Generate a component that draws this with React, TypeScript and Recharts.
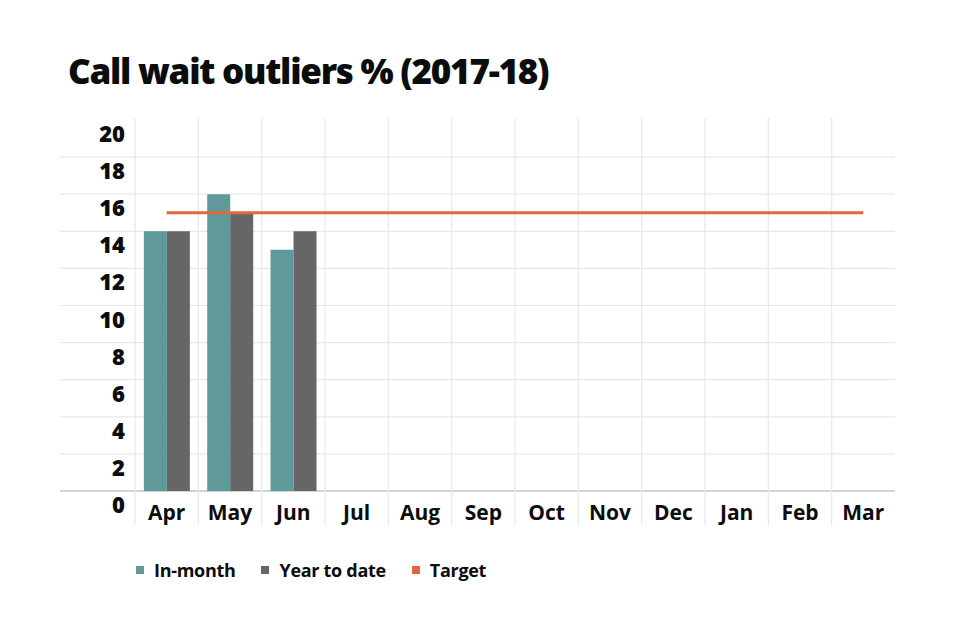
import React from 'react'
import { ComposedChart, Bar, Line, XAxis, YAxis, CartesianGrid } from 'recharts'

const months = ['Apr', 'May', 'Jun', 'Jul', 'Aug', 'Sep', 'Oct', 'Nov', 'Dec', 'Jan', 'Feb', 'Mar']
const inMonth = [14, 16, 13, null, null, null, null, null, null, null, null, null]
const yearToDate = [14, 15, 14, null, null, null, null, null, null, null, null, null]
const target = [15, 15, 15, 15, 15, 15, 15, 15, 15, 15, 15, 15]
const yTicks = [0, 2, 4, 6, 8, 10, 12, 14, 16, 18, 20]
const seriesNames = ['In-month', 'Year to date', 'Target']

const TEAL = '#5f9999'
const GREY = '#666666'
const ORANGE = '#e0683a'
const INK = '#0b0c0c'
const FONT = '"Open Sans", Lato, sans-serif'

const data = months.map((m, i) => ({
  month: m,
  inMonth: inMonth[i],
  ytd: yearToDate[i],
  target: target[i],
}))

const YTick = (props: any) => {
  const { x, y, payload } = props
  return (
    <text x={x} y={y + 22} textAnchor="end" fontFamily={FONT} fontWeight={800} fontSize={22} fill={INK}>
      {payload.value}
    </text>
  )
}

const XTick = (props: any) => {
  const { x, y, payload } = props
  return (
    <text x={x} y={y + 29} textAnchor="middle" fontFamily={FONT} fontWeight={700} fontSize={21} fill={INK}>
      {payload.value}
    </text>
  )
}

const hLine = (props: any) => {
  const { x1, x2, y1, y, height, index } = props
  if (y1 <= y + 1) return <g key={`h-${index}`} />
  const isZero = y1 >= y + height - 1
  return (
    <line key={`h-${index}`} x1={x1 - 75} x2={x2} y1={y1} y2={y1}
      stroke={isZero ? '#c4c4c4' : '#e8e8e8'} strokeWidth={isZero ? 1.5 : 1.2} />
  )
}

const vLine = (props: any) => {
  const { x1, y1, y2, index } = props
  return <line key={`v-${index}`} x1={x1} x2={x1} y1={y1 - 2} y2={y2 + 34} stroke="#e8e8e8" strokeWidth={1.2} />
}

export default function App() {
  const colors = [TEAL, GREY, ORANGE]
  return (
    <div style={{ position: 'absolute', left: 0, top: 0, width: 960, height: 640, background: '#fff' }}>
      <div style={{ position: 'absolute', left: 68, top: 47, fontFamily: FONT, fontWeight: 800, fontSize: 35, color: INK, letterSpacing: -1.25, whiteSpace: 'nowrap' }}>
        Call wait outliers % (2017-18)
      </div>
      <ComposedChart width={960} height={640} data={data}
        margin={{ top: 120, right: 65, left: 60, bottom: 109 }}
        barCategoryGap="14%" barGap={0}>
        <CartesianGrid
          horizontal={hLine}
          vertical={vLine}
          verticalCoordinatesGenerator={({ offset }: any) =>
            months.map((_, i) => offset.left + (i * offset.width) / months.length)
          }
        />
        <XAxis dataKey="month" axisLine={false} tickLine={false} tickSize={0} tickMargin={0} height={40} tick={<XTick />} interval={0} />
        <YAxis domain={[0, 20]} ticks={yTicks} axisLine={false} tickLine={false} tickSize={0} tickMargin={10} width={75} tick={<YTick />} interval={0} />
        <Bar dataKey="inMonth" name={seriesNames[0]} fill={TEAL} isAnimationActive={false} />
        <Bar dataKey="ytd" name={seriesNames[1]} fill={GREY} isAnimationActive={false} />
        <Line dataKey="target" name={seriesNames[2]} stroke={ORANGE} strokeWidth={3} dot={false} activeDot={false} isAnimationActive={false} />
      </ComposedChart>
      <div style={{ position: 'absolute', left: 136, top: 558, display: 'flex', alignItems: 'center', fontFamily: FONT, fontWeight: 700, fontSize: 18, color: INK }}>
        {seriesNames.map((n, i) => (
          <div key={n} style={{ display: 'flex', alignItems: 'center', marginRight: 26 }}>
            <span style={{ width: 8, height: 8, background: colors[i], display: 'inline-block', marginRight: 10 }} />
            <span style={{ letterSpacing: -0.3 }}>{n}</span>
          </div>
        ))}
      </div>
    </div>
  )
}
